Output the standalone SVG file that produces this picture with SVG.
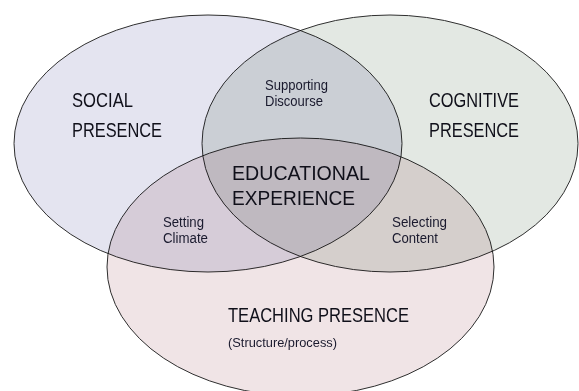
<svg xmlns="http://www.w3.org/2000/svg" width="579" height="391" viewBox="0 0 579 391">
  <style>
    .set { mix-blend-mode: multiply; }
    .ring { stroke: #2e2e2e; stroke-width: 1; }
    .big { font-family: "Liberation Sans", Arial, sans-serif; font-size: 20px; fill: #10101a; }
    .mid { font-family: "Liberation Sans", Arial, sans-serif; font-size: 14px; fill: #1a1a2e; }
    .small { font-family: "Liberation Sans", Arial, sans-serif; font-size: 12.5px; fill: #1a1a2e; }
  </style>
  <rect width="579" height="391" fill="#ffffff"/>
  <!-- three overlapping sets; multiply blending tints the overlaps -->
  <g style="isolation:isolate">
    <g id="social" class="set">
      <ellipse class="ring" cx="208" cy="143.5" rx="194" ry="128.5" fill="#e4e4f0"/>
      <text class="big" x="72" y="107" textLength="61" lengthAdjust="spacingAndGlyphs">SOCIAL</text>
      <text class="big" x="72" y="137" textLength="90" lengthAdjust="spacingAndGlyphs">PRESENCE</text>
    </g>
    <g id="cognitive" class="set">
      <ellipse class="ring" cx="390" cy="143.5" rx="188" ry="128.5" fill="#e3e8e3"/>
      <text class="big" x="429" y="107" textLength="90" lengthAdjust="spacingAndGlyphs">COGNITIVE</text>
      <text class="big" x="429" y="137" textLength="90" lengthAdjust="spacingAndGlyphs">PRESENCE</text>
    </g>
    <g id="teaching" class="set">
      <ellipse class="ring" cx="300.5" cy="267" rx="193.5" ry="129" fill="#f0e4e6"/>
      <text class="big" x="228" y="322" textLength="181" lengthAdjust="spacingAndGlyphs">TEACHING PRESENCE</text>
      <text class="small" x="228" y="347" textLength="109" lengthAdjust="spacingAndGlyphs">(Structure/process)</text>
    </g>
  </g>
  <!-- labels of the overlap regions -->
  <g id="supporting-discourse">
    <text class="mid" x="265" y="90" textLength="63" lengthAdjust="spacingAndGlyphs">Supporting</text>
    <text class="mid" x="265" y="106" textLength="58" lengthAdjust="spacingAndGlyphs">Discourse</text>
  </g>
  <g id="setting-climate">
    <text class="mid" x="163" y="227" textLength="41" lengthAdjust="spacingAndGlyphs">Setting</text>
    <text class="mid" x="163" y="243" textLength="45" lengthAdjust="spacingAndGlyphs">Climate</text>
  </g>
  <g id="selecting-content">
    <text class="mid" x="392" y="227" textLength="55" lengthAdjust="spacingAndGlyphs">Selecting</text>
    <text class="mid" x="392" y="243" textLength="46" lengthAdjust="spacingAndGlyphs">Content</text>
  </g>
  <g id="educational-experience">
    <text class="big" x="232" y="180" textLength="138" lengthAdjust="spacingAndGlyphs">EDUCATIONAL</text>
    <text class="big" x="232" y="205" textLength="123" lengthAdjust="spacingAndGlyphs">EXPERIENCE</text>
  </g>
</svg>
